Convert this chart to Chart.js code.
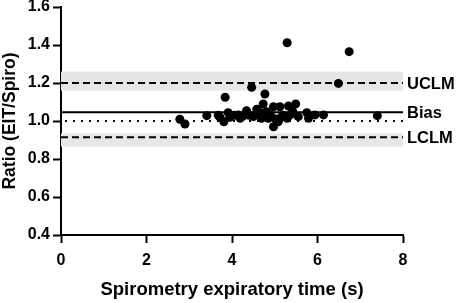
<!DOCTYPE html>
<html>
<head>
<meta charset="utf-8">
<script src="https://cdn.jsdelivr.net/npm/chart.js@4"></script>
<style>
  html, body { margin: 0; padding: 0; background: #fff; }
  #wrap { width: 457px; height: 303px; }
</style>
</head>
<body>
<div id="wrap"><canvas id="baChart" width="457" height="303"></canvas></div>
<script>
// spirometry expiratory time (s) and EIT/Spiro ratio
const timeS = [2.78, 2.90, 3.41, 3.68, 3.72, 3.81, 3.84, 3.91, 3.95, 4.05, 4.15, 4.19, 4.25, 4.34, 4.40, 4.46,
  4.50, 4.55, 4.58, 4.62, 4.66, 4.69, 4.73, 4.77, 4.81, 4.85, 4.90, 4.97, 4.97, 5.02, 5.08, 5.12,
  5.15, 5.20, 5.29, 5.29, 5.32, 5.36, 5.42, 5.49, 5.55, 5.75, 5.79, 5.94, 6.14, 6.49, 6.74, 7.40];
const ratio = [1.009, 0.984, 1.028, 1.030, 1.020, 0.996, 1.125, 1.044, 1.020, 1.030, 1.032, 1.014, 1.025, 1.054, 1.030, 1.177,
  1.023, 1.035, 1.062, 1.032, 1.045, 1.014, 1.090, 1.142, 1.049, 1.014, 1.030, 0.970, 1.075, 1.010, 0.996, 1.075,
  1.020, 1.030, 1.412, 1.014, 1.079, 1.032, 1.050, 1.090, 1.023, 1.044, 1.014, 1.032, 1.032, 1.198, 1.365, 1.028];

const xTicks = [0, 2, 4, 6, 8];
const yTicks = [0.4, 0.6, 0.8, 1.0, 1.2, 1.4, 1.6];

// reference lines: [label, value]
const refNames = ['UCLM', 'Bias', 'LCLM'];
const refValues = [1.2, 1.046, 0.914];
const identityValue = 1.0;
// confidence bands around the limits [low, high]
const uclmBand = [1.16, 1.26];
const lclmBand = [0.865, 0.935];

const FONT = 'Liberation Sans, Arial, sans-serif';

const refLines = {
  id: 'refLines',
  beforeDatasetsDraw(chart) {
    const { ctx, scales: { x, y } } = chart;
    const x0 = x.getPixelForValue(0), x1 = x.getPixelForValue(8);
    ctx.save();
    ctx.fillStyle = '#e6e6e6';
    [uclmBand, lclmBand].forEach(b => {
      const top = y.getPixelForValue(b[1]), bot = y.getPixelForValue(b[0]);
      ctx.fillRect(x0, top, x1 - x0, bot - top);
    });
    ctx.strokeStyle = '#000';
    ctx.lineWidth = 2;
    // identity dotted
    let py = y.getPixelForValue(identityValue);
    ctx.setLineDash([2, 6]);
    ctx.beginPath(); ctx.moveTo(x0 + 4, py); ctx.lineTo(x1, py); ctx.stroke();
    refValues.forEach((v, i) => {
      py = y.getPixelForValue(v);
      ctx.setLineDash(refNames[i] === 'Bias' ? [] : [7, 4]);
      ctx.beginPath(); ctx.moveTo(x0, py); ctx.lineTo(x1, py); ctx.stroke();
    });
    ctx.setLineDash([]);
    ctx.fillStyle = '#000';
    ctx.font = 'bold 16.5px ' + FONT;
    ctx.textBaseline = 'middle';
    ctx.textAlign = 'left';
    refValues.forEach((v, i) => {
      ctx.fillText(refNames[i], x1 + 4, y.getPixelForValue(v) + 1);
    });
    ctx.restore();
  }
};

new Chart(document.getElementById('baChart').getContext('2d'), {
  type: 'scatter',
  data: {
    datasets: [{
      data: timeS.map((t, i) => ({ x: t, y: ratio[i] })),
      backgroundColor: '#000',
      borderWidth: 0,
      pointRadius: 4.5
    }]
  },
  options: {
    responsive: false,
    animation: false,
    layout: { padding: { top: 7, right: 54, left: 0, bottom: 0 } },
    plugins: { legend: { display: false }, tooltip: { enabled: false } },
    scales: {
      x: {
        type: 'linear', min: 0, max: 8,
        afterBuildTicks: s => { s.ticks = xTicks.map(v => ({ value: v })); },
        afterFit: s => { s.height = 68; },
        grid: { drawOnChartArea: false, tickLength: 8, tickColor: '#000', tickWidth: 2 },
        border: { color: '#000', width: 2 },
        ticks: { color: '#000', font: { family: FONT, size: 16, weight: 'bold' }, padding: 8 },
        title: { display: true, text: 'Spirometry expiratory time (s)', color: '#000',
          font: { family: FONT, size: 18.5, weight: 'bold' }, padding: { top: 5, bottom: 2 } }
      },
      y: {
        type: 'linear', min: 0.4, max: 1.6,
        afterBuildTicks: s => { s.ticks = yTicks.map(v => ({ value: v })); },
        afterFit: s => { s.width = 61; s.paddingTop = 0; s.paddingBottom = 0; },
        grid: { drawOnChartArea: false, tickLength: 8, tickColor: '#000', tickWidth: 2 },
        border: { color: '#000', width: 2 },
        ticks: { color: '#000', font: { family: FONT, size: 16, weight: 'bold' }, padding: 3,
          callback: v => v.toFixed(1) },
        title: { display: true, text: 'Ratio (EIT/Spiro)', color: '#000',
          font: { family: FONT, size: 17.5, weight: 'bold' }, padding: 0 }
      }
    }
  },
  plugins: [refLines]
});
</script>
</body>
</html>
